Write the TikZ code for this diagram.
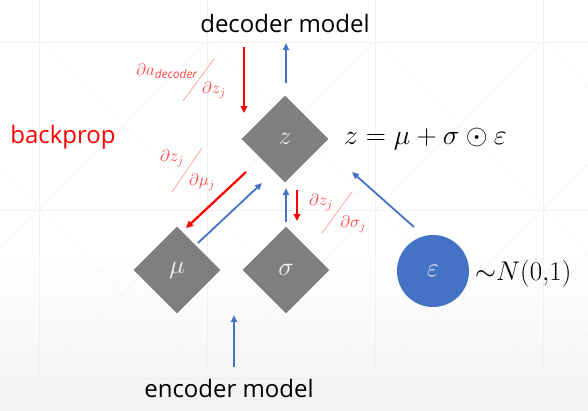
\RequirePackage{fix-cm}
\documentclass[tikz,border=0pt]{standalone}
\usepackage{fontspec}
\setmainfont{Open Sans}
\usetikzlibrary{shapes.geometric,arrows.meta}
\definecolor{nodegray}{HTML}{7F7F7F}
\definecolor{fwdblue}{HTML}{4472C4}
\definecolor{bwdred}{HTML}{FF0000}
\definecolor{gradred}{HTML}{FF4545}
\definecolor{slashred}{HTML}{FF9A9A}
\begin{document}
\begin{tikzpicture}[
    x=1pt, y=-1pt,
    var/.style={diamond, fill=nodegray, aspect=1, minimum size=87pt, inner sep=0pt,
                text=white!92!gray, font=\fontsize{26}{26}\selectfont},
    noise/.style={circle, fill=fwdblue, minimum size=72pt, inner sep=0pt,
                  text=white!92!gray, font=\fontsize{26}{26}\selectfont},
    caption/.style={font=\fontsize{24}{24}\selectfont, inner sep=0pt},
    eqn/.style={font=\fontsize{28}{28}\selectfont, inner sep=0pt},
    grad/.style={text=gradred, font=\fontsize{17}{17}\selectfont, inner sep=0pt},
    slash/.style={draw=slashred, line width=0.7pt},
    fwd/.style={draw=fwdblue, line width=1.8pt, -{Triangle[length=7pt,width=6pt]}},
    bwd/.style={draw=bwdred, line width=2.2pt, -{Triangle[length=7pt,width=6.5pt]}}]
  \useasboundingbox (0,0) rectangle (588,410);
  % background: slide grid
  \begin{scope}
    \clip (0,0) rectangle (588,410);
    \fill[white] (0,0) rectangle (588,410);
    \shade[top color=white, bottom color=black!5] (0,250) rectangle (588,410);
    \foreach \gx in {39,207,375,543} \draw[black!6, line width=0.5pt] (\gx,0) -- (\gx,410);
    \foreach \gy in {42,210,378} \draw[black!6, line width=0.5pt] (0,\gy) -- (588,\gy);
    \foreach \gx in {-129,39,207,375,543} {
      \draw[black!5, line width=0.5pt] (\gx,42) -- ++(168,168) -- ++(168,168);
      \draw[black!5, line width=0.5pt] (\gx,378) -- ++(168,-168) -- ++(168,-168);
    }
  \end{scope}
  % variables
  \node[var]   (z)   at (285,139) {$z$};
  \node[var]   (mu)  at (177,270) {$\mu$};
  \node[var]   (sig) at (286,270) {$\sigma$};
  \node[noise] (eps) at (433,271) {$\varepsilon$};
  % texts
  \node[caption] (dec) at (285,23) {decoder model};
  \node[caption] (enc) at (229,388) {encoder model};
  \node[caption, text=bwdred] (bp) at (63,137) {backprop};
  \node[eqn, anchor=west] (eq) at (344,139) {$z = \mu + \sigma \odot \varepsilon$};
  \node[eqn, anchor=west, font=\fontsize{27}{27}\selectfont] (dist) at (475,274) {${\sim}N(0{,}1)$};
  % arrow ends
  \coordinate (decin)  at (244,47);  \coordinate (zin)   at (244,113);
  \coordinate (zout)   at (286,83);  \coordinate (decout) at (286,43);
  \coordinate (zmu1)   at (246,172); \coordinate (zmu2)  at (186,228);
  \coordinate (muz1)   at (198,243); \coordinate (muz2)  at (262,183);
  \coordinate (sigz1)  at (286,222); \coordinate (sigz2) at (286,188);
  \coordinate (zsig1)  at (297,190); \coordinate (zsig2) at (297,221);
  \coordinate (epsz1)  at (414,227); \coordinate (epsz2) at (352,172);
  \coordinate (encout) at (234,367); \coordinate (encin) at (234,315);
  % forward pass
  \draw[fwd] (zout) -- (decout);
  \draw[fwd] (muz1) -- (muz2);
  \draw[fwd] (sigz1) -- (sigz2);
  \draw[fwd] (epsz1) -- (epsz2);
  \draw[fwd] (encout) -- (encin);
  % backward pass
  \draw[bwd] (decin) -- (zin);
  \draw[bwd] (zmu1) -- (zmu2);
  \draw[bwd] (zsig1) -- (zsig2);
  % gradient labels
  \node[grad] (ga1) at (167,71) {$\partial a_{\mathit{decoder}}$};
  \node[grad] (ga2) at (214,90) {$\partial z_j$};
  \draw[slash] (214,59) -- (183,101);
  \node[grad] (gm1) at (172,158) {$\partial z_j$};
  \node[grad] (gm2) at (202,182) {$\partial \mu_j$};
  \draw[slash] (202,148) -- (172,192);
  \node[grad] (gs1) at (321,202) {$\partial z_j$};
  \node[grad] (gs2) at (353,224) {$\partial \sigma_j$};
  \draw[slash] (352,192) -- (322,233);
\end{tikzpicture}
\end{document}
